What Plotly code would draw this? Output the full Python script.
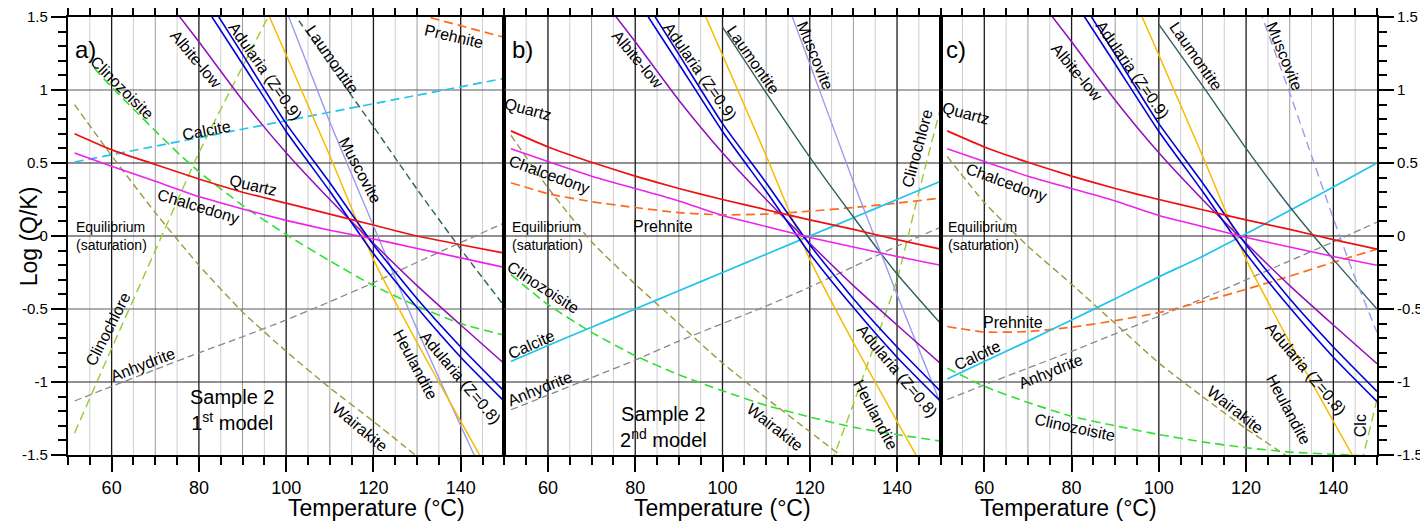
import plotly.graph_objects as go

# ---------------- DATA (log Q/K vs temperature) ----------------
T_STD = [51.5, 60, 70, 80, 90, 100, 110, 120, 130, 140, 150]

# shared minerals (same in all three panels)
ALBITE_T = [70, 80, 90, 100, 110, 120, 130, 140, 150]
ALBITE = [1.72, 1.33, 0.93, 0.57, 0.25, -0.05, -0.34, -0.61, -0.875]
ADULARIA_T = [80, 90, 100, 110, 120, 130, 140, 150]
ADULARIA_UP = [1.716, 1.244, 0.77, 0.365, -0.06, -0.43, -0.76, -1.064]
ADULARIA_LO = [1.638, 1.178, 0.716, 0.306, -0.12, -0.49, -0.83, -1.133]
HEULANDITE_T = [95, 100, 110, 120, 130, 140, 150]
HEULANDITE = [1.58, 1.24, 0.55, -0.16, -0.73, -1.27, -1.80]

# panel a) Sample 2, 1st model
A_QUARTZ = [0.70, 0.59, 0.49, 0.39, 0.30, 0.225, 0.15, 0.075, 0.0, -0.06, -0.117]
A_CHALCEDONY = [0.568, 0.477, 0.375, 0.27, 0.185, 0.107, 0.04, -0.02, -0.085, -0.15, -0.215]
A_CALCITE_T = [51.5, 100, 150]
A_CALCITE = [0.507, 0.79, 1.08]
A_PREHNITE_T = [130, 150]
A_PREHNITE = [1.52, 1.36]
A_CLINOZOISITE_T = [56, 60, 65, 70, 75, 80, 90, 100, 110, 120, 130, 140, 150]
A_CLINOZOISITE = [1.15, 1.02, 0.87, 0.72, 0.575, 0.44, 0.21, 0.01, -0.17, -0.34, -0.48, -0.60, -0.68]
A_WAIRAKITE_T = [51.5, 60, 70, 80, 90, 100, 110, 120, 130]
A_WAIRAKITE = [0.90, 0.55, 0.16, -0.20, -0.52, -0.79, -1.04, -1.27, -1.51]
A_CLINOCHLORE_T = [51.5, 60, 70, 80, 90, 100]
A_CLINOCHLORE = [-1.35, -0.77, -0.10, 0.57, 1.16, 1.74]
A_ANHYDRITE = [-1.13, -1.03, -0.915, -0.80, -0.69, -0.575, -0.45, -0.32, -0.18, -0.045, 0.09]
A_LAUMONTITE_T = [100, 110, 120, 130, 140, 150]
A_LAUMONTITE = [1.60, 1.17, 0.75, 0.32, -0.09, -0.48]
A_MUSCOVITE_T = [98, 110, 120, 130, 140, 150]
A_MUSCOVITE = [1.70, 0.78, 0.07, -0.64, -1.30, -1.95]

# panel b) Sample 2, 2nd model
B_QUARTZ = [0.72, 0.61, 0.505, 0.41, 0.325, 0.25, 0.18, 0.11, 0.045, -0.025, -0.09]
B_CHALCEDONY = [0.597, 0.51, 0.41, 0.325, 0.24, 0.14, 0.065, -0.01, -0.075, -0.14, -0.20]
B_CALCITE = [-0.86, -0.75, -0.625, -0.50, -0.375, -0.25, -0.125, 0.0, 0.125, 0.25, 0.375]
B_PREHNITE = [0.365, 0.29, 0.235, 0.195, 0.16, 0.145, 0.15, 0.17, 0.195, 0.225, 0.26]
B_CLINOZOISITE = [-0.265, -0.47, -0.66, -0.82, -0.95, -1.06, -1.16, -1.24, -1.31, -1.36, -1.405]
B_WAIRAKITE_T = [51.5, 60, 70, 80, 90, 100, 110, 120, 130]
B_WAIRAKITE = [0.69, 0.33, -0.04, -0.33, -0.60, -0.87, -1.11, -1.34, -1.57]
B_CLINOCHLORE_T = [125, 130, 135, 140, 145, 150]
B_CLINOCHLORE = [-1.55, -1.15, -0.73, -0.30, 0.30, 0.88]
B_ANHYDRITE = [-1.19, -1.09, -0.97, -0.85, -0.72, -0.60, -0.48, -0.35, -0.21, -0.07, 0.06]
B_LAUMONTITE_T = [100, 110, 120, 130, 140, 150]
B_LAUMONTITE = [1.43, 0.98, 0.54, 0.13, -0.26, -0.60]
B_MUSCOVITE_T = [114, 120, 130, 140, 150]
B_MUSCOVITE = [1.66, 1.18, 0.37, -0.40, -1.15]

# panel c)
C_QUARTZ = B_QUARTZ
C_CHALCEDONY = B_CHALCEDONY
C_CALCITE = [-0.98, -0.86, -0.72, -0.575, -0.43, -0.28, -0.14, 0.015, 0.175, 0.335, 0.50]
C_PREHNITE = [-0.62, -0.658, -0.655, -0.625, -0.58, -0.525, -0.45, -0.365, -0.275, -0.18, -0.09]
C_CLINOZOISITE = [-0.905, -1.03, -1.14, -1.235, -1.30, -1.36, -1.41, -1.45, -1.48, -1.495, -1.51]
C_WAIRAKITE_T = [51.5, 60, 70, 80, 90, 100, 110, 120, 130]
C_WAIRAKITE = [0.545, 0.23, -0.07, -0.33, -0.60, -0.87, -1.10, -1.32, -1.52]
C_CLINOCHLORE_T = [146.5, 150]
C_CLINOCHLORE = [-1.55, -1.12]
C_ANHYDRITE = [-1.12, -1.02, -0.905, -0.79, -0.67, -0.55, -0.43, -0.30, -0.17, -0.04, 0.095]
C_LAUMONTITE_T = [100, 110, 120, 130, 140, 150]
C_LAUMONTITE = [1.45, 1.03, 0.60, 0.20, -0.16, -0.50]
C_MUSCOVITE_T = [122, 130, 135, 140, 145, 150]
C_MUSCOVITE = [1.64, 0.98, 0.55, 0.12, -0.29, -0.66]

X_TICKS = [60, 80, 100, 120, 140]
Y_TICKS = [-1.5, -1, -0.5, 0, 0.5, 1, 1.5]

# ---------------- STYLE ----------------
FONT = "Arial, Liberation Sans, sans-serif"
DASH = "9px,5px"
DASH_S = "7px,4px"
COL = dict(quartz="#ee1111", chalc="#ee22ee", albite="#9010b8", adul="#0000dd",
           heul="#f7bb00", musc="#9b9bee", laum="#2f6060", preh="#ff6a1a",
           calc="#22c4ee", czo="#30e030", wai="#999940", clc="#99cc33", anh="#888888")

fig = go.Figure()
AX = ["", "2", "3"]


def add(p, T, Y, color, dash=None, width=1.5):
    fig.add_trace(go.Scatter(
        x=T, y=Y, mode="lines",
        line=dict(color=color, width=width, dash=dash, shape="spline", smoothing=0.5),
        xaxis="x" + AX[p], yaxis="y" + AX[p], showlegend=False, hoverinfo="skip"))


panels = [
    dict(quartz=A_QUARTZ, chalc=A_CHALCEDONY, calc=(A_CALCITE_T, A_CALCITE, DASH),
         preh=(A_PREHNITE_T, A_PREHNITE), czo=(A_CLINOZOISITE_T, A_CLINOZOISITE),
         wai=(A_WAIRAKITE_T, A_WAIRAKITE), clc=(A_CLINOCHLORE_T, A_CLINOCHLORE),
         anh=A_ANHYDRITE, laum=(A_LAUMONTITE_T, A_LAUMONTITE, DASH_S),
         musc=(A_MUSCOVITE_T, A_MUSCOVITE, None)),
    dict(quartz=B_QUARTZ, chalc=B_CHALCEDONY, calc=(T_STD, B_CALCITE, None),
         preh=(T_STD, B_PREHNITE), czo=(T_STD, B_CLINOZOISITE),
         wai=(B_WAIRAKITE_T, B_WAIRAKITE), clc=(B_CLINOCHLORE_T, B_CLINOCHLORE),
         anh=B_ANHYDRITE, laum=(B_LAUMONTITE_T, B_LAUMONTITE, None),
         musc=(B_MUSCOVITE_T, B_MUSCOVITE, None)),
    dict(quartz=C_QUARTZ, chalc=C_CHALCEDONY, calc=(T_STD, C_CALCITE, None),
         preh=(T_STD, C_PREHNITE), czo=(T_STD, C_CLINOZOISITE),
         wai=(C_WAIRAKITE_T, C_WAIRAKITE), clc=(C_CLINOCHLORE_T, C_CLINOCHLORE),
         anh=C_ANHYDRITE, laum=(C_LAUMONTITE_T, C_LAUMONTITE, None),
         musc=(C_MUSCOVITE_T, C_MUSCOVITE, DASH)),
]

for p, d in enumerate(panels):
    add(p, T_STD, d["anh"], COL["anh"], DASH_S, 1.3)
    add(p, d["wai"][0], d["wai"][1], COL["wai"], DASH_S, 1.4)
    add(p, d["czo"][0], d["czo"][1], COL["czo"], DASH, 1.6)
    add(p, d["clc"][0], d["clc"][1], COL["clc"], DASH, 1.4)
    add(p, d["preh"][0], d["preh"][1], COL["preh"], DASH, 1.7)
    add(p, d["calc"][0], d["calc"][1], COL["calc"], d["calc"][2], 1.7)
    add(p, d["laum"][0], d["laum"][1], COL["laum"], d["laum"][2], 1.4)
    add(p, d["musc"][0], d["musc"][1], COL["musc"], d["musc"][2], 1.4)
    add(p, HEULANDITE_T, HEULANDITE, COL["heul"], None, 1.5)
    add(p, ALBITE_T, ALBITE, COL["albite"], None, 1.5)
    add(p, ADULARIA_T, ADULARIA_UP, COL["adul"], None, 1.6)
    add(p, ADULARIA_T, ADULARIA_LO, COL["adul"], None, 1.6)
    add(p, T_STD, d["chalc"], COL["chalc"], None, 1.6)
    add(p, T_STD, d["quartz"], COL["quartz"], None, 1.7)

# ---------------- GRID (drawn as shapes, three shades) ----------------
shapes = []
for p in range(3):
    xr, yr = "x" + AX[p], "y" + AX[p]
    for t in range(55, 150, 5):
        if t % 20 == 0:
            c, w = "#1a1a1a", 1.3
        elif t % 10 == 0:
            c, w = "#9a9a9a", 1.0
        else:
            c, w = "#cfcfcf", 1.0
        shapes.append(dict(type="line", xref=xr, yref=yr, x0=t, x1=t, y0=-1.5, y1=1.5,
                           line=dict(color=c, width=w), layer="below"))
    for yv in [-1, -0.5, 0, 0.5, 1]:
        c = "#5a5a5a" if yv in (1, -0.5) else "#222222"
        shapes.append(dict(type="line", xref=xr, yref=yr, x0=50, x1=150, y0=yv, y1=yv,
                           line=dict(color=c, width=1.2), layer="below"))

# ---------------- LABELS ----------------
LBL = 16
labels = [
    # panel a
    (0, "Clinozoisite", 62.3, 1.015, 45), (0, "Albite-low", 79.4, 1.21, 50),
    (0, "Adularia (Z=0.9)", 95.3, 1.13, 55), (0, "Laumontite", 110.6, 1.21, 55),
    (0, "Prehnite", 138.5, 1.365, 13), (0, "Calcite", 81.7, 0.72, -11),
    (0, "Muscovite", 117.0, 0.45, 62), (0, "Quartz", 92.5, 0.345, 13),
    (0, "Chalcedony", 79.9, 0.20, 17), (0, "Clinochlore", 59.1, -0.64, -63),
    (0, "Anhydrite", 67.3, -0.88, -21), (0, "Wairakite", 117.0, -1.31, 40),
    (0, "Heulandite", 129.6, -0.88, 62), (0, "Adularia (Z=0.8)", 139.9, -0.97, 50),
    # panel b
    (1, "Albite-low", 80.6, 1.21, 50), (1, "Adularia (Z=0.9)", 94.9, 1.13, 55),
    (1, "Laumontite", 107.0, 1.21, 55), (1, "Muscovite", 121.2, 1.235, 68),
    (1, "Quartz", 55.5, 0.867, 15), (1, "Chalcedony", 60.3, 0.42, 20),
    (1, "Prehnite", 86.4, 0.067, 0), (1, "Clinochlore", 144.6, 0.60, -75),
    (1, "Clinozoisite", 58.9, -0.354, 33), (1, "Calcite", 56.2, -0.745, -24),
    (1, "Anhydrite", 58.2, -1.046, -22), (1, "Wairakite", 112.1, -1.31, 38),
    (1, "Heulandite", 135.0, -1.225, 62), (1, "Adularia (Z=0.8)", 140.0, -0.92, 50),
    # panel c
    (2, "Albite-low", 81.3, 1.12, 50), (2, "Adularia (Z=0.9)", 93.9, 1.14, 55),
    (2, "Laumontite", 108.5, 1.228, 55), (2, "Muscovite", 128.8, 1.228, 68),
    (2, "Quartz", 55.9, 0.84, 15), (2, "Chalcedony", 65.1, 0.365, 20),
    (2, "Prehnite", 66.5, -0.59, 0), (2, "Calcite", 58.4, -0.82, -25),
    (2, "Anhydrite", 75.2, -0.93, -22), (2, "Clinozoisite", 80.8, -1.31, 12),
    (2, "Wairakite", 117.4, -1.19, 38), (2, "Heulandite", 129.7, -1.19, 62),
    (2, "Adularia (Z=0.8)", 133.6, -0.91, 50), (2, "Clc", 146.2, -1.30, -90),
]
ann = []
for p, txt, x, y, a in labels:
    ann.append(dict(text=txt, x=x, y=y, xref="x" + AX[p], yref="y" + AX[p], textangle=a,
                    showarrow=False, font=dict(size=LBL, color="black", family=FONT)))

panel_tags = [("a)", 53.9), ("b)", 54.1), ("c)", 53.4)]
for p, (tag, x) in enumerate(panel_tags):
    ann.append(dict(text=tag, x=x, y=1.28, xref="x" + AX[p], yref="y" + AX[p],
                    showarrow=False, font=dict(size=24, color="black", family=FONT)))
    ann.append(dict(text="Equilibrium<br>(saturation)", x=51.3, y=0.0, xref="x" + AX[p],
                    yref="y" + AX[p], xanchor="left", align="left", showarrow=False,
                    font=dict(size=14, color="black", family=FONT)))
    ann.append(dict(text="Temperature (°C)", x=(2 * p + 1) / 6, y=-0.122, xref="paper",
                    yref="paper", yanchor="middle", showarrow=False,
                    font=dict(size=23, color="black", family=FONT)))

ann.append(dict(text="Sample 2<br>1<sup>st</sup> model", x=87.7, y=-1.19, xref="x", yref="y",
                showarrow=False, font=dict(size=20, color="black", family=FONT)))
ann.append(dict(text="Sample 2<br>2<sup>nd</sup> model", x=86.4, y=-1.31, xref="x2", yref="y2",
                showarrow=False, font=dict(size=20, color="black", family=FONT)))
ann.append(dict(text="Log (Q/K)", x=-0.041, y=0.5, xref="paper", yref="paper",
                textangle=-90, showarrow=False, font=dict(size=23, color="black", family=FONT)))

# ---------------- AXES ----------------
# the page body adds an 8px offset, so the figure is 8px smaller and margins shifted
doms = [(0, 1 / 3), (1 / 3, 2 / 3), (2 / 3, 1)]
layout = dict(width=1420, height=516,
              margin=dict(l=59.5, r=51, t=9.3, b=69, autoexpand=False),
              paper_bgcolor="white", plot_bgcolor="white", shapes=shapes, annotations=ann,
              font=dict(family=FONT, color="black"))
for p in range(3):
    layout["xaxis" + AX[p]] = dict(
        domain=doms[p], range=[50, 150], tickmode="array", tickvals=X_TICKS,
        ticks="outside", ticklen=15, tickwidth=2, tickcolor="black",
        minor=dict(dtick=5, tick0=50, ticks="outside", ticklen=8, tickwidth=2,
                   tickcolor="black", showgrid=False),
        showline=True, linewidth=2.2, linecolor="black", mirror="ticks",
        showgrid=False, zeroline=False, anchor="y" + AX[p], automargin=False,
        tickfont=dict(size=18, family=FONT, color="black"))
    yax = dict(domain=[0, 1], range=[-1.5, 1.5], showline=True, linewidth=2.2,
               linecolor="black", mirror=True, showgrid=False, zeroline=False,
               anchor="x" + AX[p], automargin=False,
               tickfont=dict(size=15, family=FONT, color="black"))
    if p == 1:
        yax.update(showticklabels=False, ticks="")
    else:
        yax.update(tickmode="array", tickvals=Y_TICKS,
                   ticktext=[("%g" % v) for v in Y_TICKS],
                   ticks="outside", ticklen=15, tickwidth=2, tickcolor="black",
                   minor=dict(dtick=0.1, tick0=0, ticks="outside", ticklen=8, tickwidth=2,
                              tickcolor="black", showgrid=False))
        if p == 2:
            yax.update(side="right")
    layout["yaxis" + AX[p]] = yax

fig.update_layout(**layout)
fig.write_html("out.html")
